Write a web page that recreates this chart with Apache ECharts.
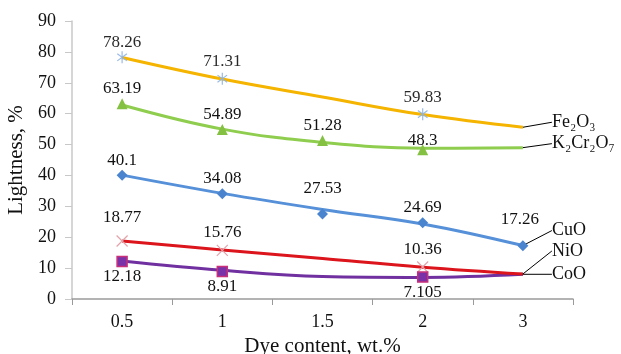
<!DOCTYPE html>
<html>
<head>
<meta charset="utf-8">
<script src="https://cdn.jsdelivr.net/npm/echarts@6/dist/echarts.min.js"></script>
<style>
  html, body { margin: 0; padding: 0; background: #fff; }
  #chart { width: 621px; height: 354px; }
</style>
</head>
<body>
<div id="chart"></div>
<script>
// Dye content categories (wt.%)
const categories = ['0.5', '1', '1.5', '2', '3'];

// Measured lightness values (null = not measured)
const fe2o3Measured = [78.26, 71.31, null, 59.83, null];
const k2cr2o7Measured = [63.19, 54.89, 51.28, 48.3, null];
const cuoMeasured = [40.1, 34.08, 27.53, 24.69, 17.26];
const nioMeasured = [18.77, 15.76, null, 10.36, null];
const cooMeasured = [12.18, 8.91, null, 7.105, null];

// Trend curves through each series
const fe2o3Trend = [78.2, 71.2, 65.4, 59.7, 55.6];
const k2cr2o7Trend = [62.8, 55.0, 50.7, 48.8, 49.0];
const cuoTrend = [40.1, 34.2, 29.0, 24.3, 17.3];
const nioTrend = [18.8, 15.9, 13.1, 10.3, 8.1];
const cooTrend = [12.3, 9.3, 7.3, 7.0, 8.0];

// Series names shown at the end of each curve
const names = ['Fe₂O₃', 'K₂Cr₂O₇', 'CuO', 'NiO', 'CoO'];

// Y axis range
const yMin = 0, yMax = 90, yStep = 10;

const FONT = '"Liberation Serif", "Times New Roman", serif';

const asteriskPath = 'path://M10,0L10,20M2,4L18,16M18,4L2,16';
const crossPath = 'path://M0,0L20,20M20,0L0,20';

function trend(name, values, color, endShift) {
  const last = values.length - 1;
  return {
    name: name + ' trend',
    type: 'line',
    data: values.map((v, i) => i === last ? {
      value: v,
      label: {
        show: true,
        position: 'right',
        distance: 0,
        formatter: name,
        fontFamily: FONT,
        fontSize: 18,
        color: '#111'
      },
      labelLine: { show: true, lineStyle: { color: '#000', width: 1 } }
    } : v),
    smooth: 0.4,
    showSymbol: true,
    symbol: 'circle',
    symbolSize: 0,
    lineStyle: { color: color, width: 3 },
    itemStyle: { color: color },
    labelLayout: { dx: endShift[0], dy: endShift[1] },
    labelLine: { show: false },
    silent: true,
    z: 2
  };
}

function markers(name, values, opts) {
  return {
    name: name,
    type: 'line',
    data: values.map((v, i) => {
      if (v === null) return null;
      const off = (opts.offsets && opts.offsets[i]) || [0, 0];
      return { value: v, label: { offset: off } };
    }),
    lineStyle: { width: 0, opacity: 0 },
    symbol: opts.symbol,
    symbolSize: opts.size,
    symbolKeepAspect: true,
    showAllSymbol: true,
    connectNulls: false,
    itemStyle: opts.itemStyle,
    label: {
      show: true,
      position: opts.pos,
      distance: opts.dist,
      formatter: p => String(p.value),
      fontFamily: FONT,
      fontSize: 17,
      color: '#111'
    },
    z: 3
  };
}

const option = {
  backgroundColor: '#fff',
  animation: false,
  grid: { left: 72, right: 48, top: 21, bottom: 55, outerBoundsMode: 'none', containLabel: false },
  xAxis: {
    type: 'category',
    data: categories,
    boundaryGap: true,
    name: 'Dye content, wt.%',
    nameLocation: 'middle',
    nameGap: 33,
    nameTextStyle: { fontFamily: FONT, fontSize: 21, color: '#111' },
    axisLine: { lineStyle: { color: '#9a9a9a', width: 1.5 } },
    axisTick: { show: true, length: 6, lineStyle: { color: '#9a9a9a' } },
    axisLabel: { fontFamily: FONT, fontSize: 18, color: '#111', margin: 14 },
    splitLine: { show: false }
  },
  yAxis: {
    type: 'value',
    min: yMin,
    max: yMax,
    interval: yStep,
    name: 'Lightness, %',
    nameLocation: 'middle',
    nameGap: 44,
    nameTextStyle: { fontFamily: FONT, fontSize: 21, color: '#111' },
    axisLine: { show: true, lineStyle: { color: '#c8c8c8', width: 1.5 } },
    axisTick: { show: true, length: 7, lineStyle: { color: '#c8c8c8' } },
    axisLabel: { fontFamily: FONT, fontSize: 18, color: '#111', margin: 16 },
    splitLine: { show: false }
  },
  series: [
    trend(names[0], fe2o3Trend, '#f5b400', [29, -5]),
    trend(names[1], k2cr2o7Trend, '#8fcd4f', [29, -4]),
    trend(names[2], cuoTrend, '#5590d8', [29, -15]),
    trend(names[4], cooTrend, '#7030a0', [29, 0]),
    trend(names[3], nioTrend, '#dc141c', [29, -23]),
    markers('Fe2O3', fe2o3Measured, {
      symbol: asteriskPath, size: 12, pos: 'top', dist: 0,
      itemStyle: { color: 'none', borderColor: '#8db3e2', borderWidth: 1.2, opacity: 0.9 },
      offsets: [[0, 2]]
    }),
    markers('K2Cr2O7', k2cr2o7Measured, {
      symbol: 'triangle', size: 11, pos: 'top', dist: 1,
      itemStyle: { color: '#84c041' },
      offsets: [null, null, null, [0, 6]]
    }),
    markers('CuO', cuoMeasured, {
      symbol: 'diamond', size: 11, pos: 'top', dist: 1,
      itemStyle: { color: '#4a84cf' },
      offsets: [null, null, [0, -10], null, [-3, -11]]
    }),
    markers('NiO', nioMeasured, {
      symbol: crossPath, size: 11, pos: 'top', dist: 1,
      itemStyle: { color: 'none', borderColor: '#e2a3ab', borderWidth: 1.2 },
      offsets: [[0, -6]]
    }),
    markers('CoO', cooMeasured, {
      symbol: 'rect', size: 10, pos: 'bottom', dist: 1,
      itemStyle: { color: '#7a32a8', borderColor: '#c8307a', borderWidth: 1.5 }
    })
  ]
};

const chart = echarts.init(document.getElementById('chart'), null, { renderer: 'canvas' });
chart.setOption(option);
</script>
</body>
</html>
